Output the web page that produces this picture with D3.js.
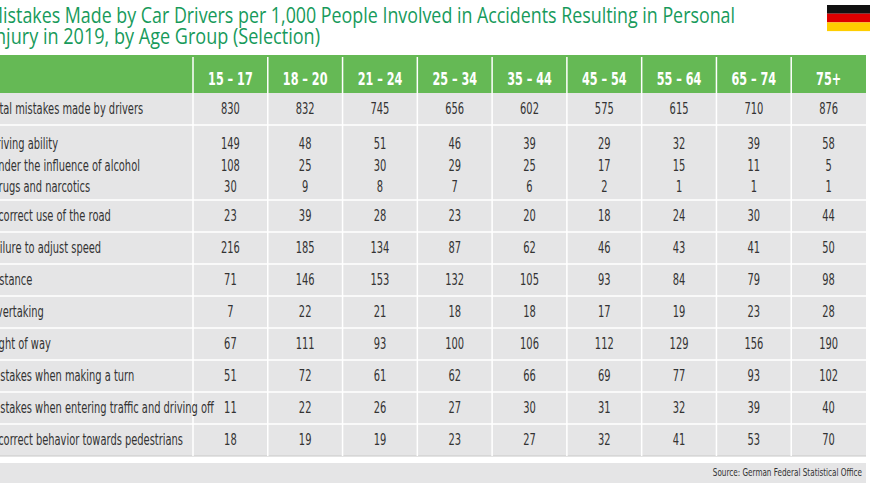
<!DOCTYPE html>
<html><head><meta charset="utf-8">
<script src="https://cdn.jsdelivr.net/npm/d3@7"></script>
<style>body{margin:0;background:#fff}svg{display:block}</style>
</head><body><div id="chart"></div>
<script>
var ageGroups = ["15 – 17","18 – 20","21 – 24","25 – 34","35 – 44","45 – 54","55 – 64","65 – 74","75+"];
var rowLabels = ["Total mistakes made by drivers","Driving ability","Under the influence of alcohol","Drugs and narcotics",
  "Incorrect use of the road","Failure to adjust speed","Distance","Overtaking","Right of way",
  "Mistakes when making a turn","Mistakes when entering traffic and driving off","Incorrect behavior towards pedestrians"];
var rowIndent = [0,0,1,1,0,0,0,0,0,0,0,0];
var rowBlock = [0,1,1,1,2,3,4,5,6,7,8,9];
var values = [
  [830,832,745,656,602,575,615,710,876],
  [149,48,51,46,39,29,32,39,58],
  [108,25,30,29,25,17,15,11,5],
  [30,9,8,7,6,2,1,1,1],
  [23,39,28,23,20,18,24,30,44],
  [216,185,134,87,62,46,43,41,50],
  [71,146,153,132,105,93,84,79,98],
  [7,22,21,18,18,17,19,23,28],
  [67,111,93,100,106,112,129,156,190],
  [51,72,61,62,66,69,77,93,102],
  [11,22,26,27,30,31,32,39,40],
  [18,19,19,23,27,32,41,53,70]
];

var W = 870, H = 490, font = "'DejaVu Sans', sans-serif", sx = 0.66;
var svg = d3.select("#chart").append("svg").attr("width", W).attr("height", H);

var x = d3.scaleBand().domain(ageGroups).range([193, 866]);
// block heights: total, group of 3, then singles
var blockH = [32, 75, 32, 32, 32, 32, 32, 32, 32, 32];
var blockTop = [93];
blockH.forEach(function (h, i) { blockTop.push(blockTop[i] + h); });
function rowY(i) {
  var b = rowBlock[i];
  if (b === 1) return blockTop[1] + 19 + (i - 1) * 21.5;
  return blockTop[b] + blockH[b] / 2;
}
function tr(px, py) { return "translate(" + px + "," + py + ") scale(" + sx + ",1)"; }

// title
var tfont = "'Open Sans', sans-serif";
svg.append("text").attr("x", -13).attr("y", 23).attr("fill", "#179a5b").attr("font-family", tfont)
  .attr("font-size", 21).attr("textLength", 748).attr("lengthAdjust", "spacingAndGlyphs")
  .text("Mistakes Made by Car Drivers per 1,000 People Involved in Accidents Resulting in Personal");
svg.append("text").attr("x", -10).attr("y", 44).attr("fill", "#179a5b").attr("font-family", tfont)
  .attr("font-size", 21).attr("textLength", 330).attr("lengthAdjust", "spacingAndGlyphs")
  .text("Injury in 2019, by Age Group (Selection)");

// flag
["#111", "#dd0000", "#ffce00"].forEach(function (c, i) {
  svg.append("rect").attr("x", 827).attr("y", 5 + i * 8.7).attr("width", 43).attr("height", 8.7).attr("fill", c);
});

// header
svg.append("rect").attr("x", 0).attr("y", 55).attr("width", 866).attr("height", 38).attr("fill", "#65b955");
svg.selectAll("text.hdr").data(ageGroups).enter().append("text").attr("class", "hdr")
  .attr("transform", function (d) { return tr(x(d) + x.bandwidth() / 2, 85); })
  .attr("text-anchor", "middle").attr("fill", "#fff").attr("font-weight", "bold")
  .attr("font-family", font).attr("font-size", 17).text(function (d) { return d; });

// body blocks
svg.selectAll("rect.blk").data(blockH).enter().append("rect").attr("class", "blk")
  .attr("x", 0).attr("y", function (d, i) { return blockTop[i]; })
  .attr("width", 866).attr("height", function (d) { return d; }).attr("fill", "#e5e5e6");
svg.selectAll("line.hsep").data(blockTop.slice(1, -1)).enter().append("line").attr("class", "hsep")
  .attr("x1", 0).attr("x2", 866).attr("y1", function (d) { return d; }).attr("y2", function (d) { return d; })
  .attr("stroke", "#fff").attr("stroke-width", 1.5);
svg.append("line").attr("x1", 0).attr("x2", 866).attr("y1", blockTop[10]).attr("y2", blockTop[10])
  .attr("stroke", "#c8c8c8").attr("stroke-width", 1);
svg.selectAll("line.vsep").data(ageGroups).enter().append("line").attr("class", "vsep")
  .attr("x1", function (d) { return x(d); }).attr("x2", function (d) { return x(d); })
  .attr("y1", 57).attr("y2", blockTop[10])
  .attr("stroke", "#fff").attr("stroke-width", 1.5);

// labels and values
svg.selectAll("text.lbl").data(rowLabels).enter().append("text").attr("class", "lbl")
  .attr("transform", function (d, i) { return tr(-11 + rowIndent[i] * 2, rowY(i) + 5); })
  .attr("fill", "#333").attr("font-family", font).attr("font-size", 15).text(function (d) { return d; });
values.forEach(function (row, i) {
  svg.selectAll(null).data(row).enter().append("text")
    .attr("transform", function (d, j) { return tr(x(ageGroups[j]) + x.bandwidth() / 2, rowY(i) + 5); })
    .attr("text-anchor", "middle")
    .attr("fill", "#333").attr("font-family", font).attr("font-size", 15).text(function (d) { return d; });
});

// footer
svg.append("rect").attr("x", 0).attr("y", 463).attr("width", 866).attr("height", 20).attr("fill", "#e5e5e6");
svg.append("text").attr("transform", tr(862, 476)).attr("text-anchor", "end").attr("fill", "#333")
  .attr("font-family", font).attr("font-size", 11).text("Source: German Federal Statistical Office");
</script></body></html>
